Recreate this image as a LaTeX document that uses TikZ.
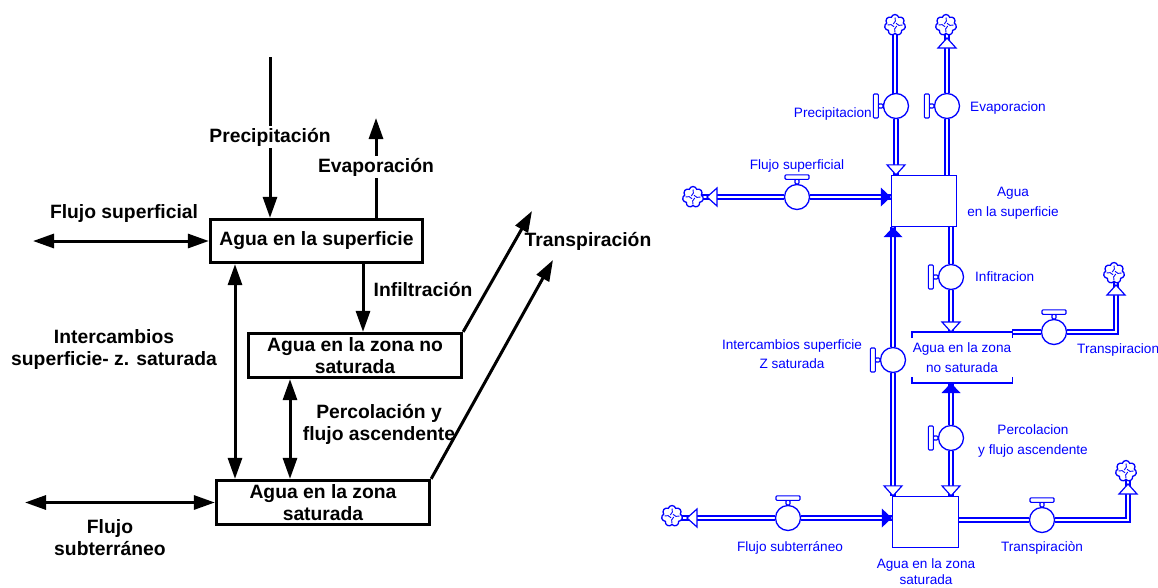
\documentclass[tikz,border=0pt]{standalone}
\usepackage{fontspec}
\setmainfont{Liberation Sans}
\usetikzlibrary{arrows.meta,shapes.symbols,calc}
\definecolor{vb}{RGB}{0,0,255}
\pgfdeclarelayer{bg}
\pgfsetlayers{bg,main}
\newcommand{\swirl}[1]{\foreach \a in {30,120,210,300}{\draw[vb,line width=0.9pt] ([shift={(\a:2)}]#1.center) to[bend right=40] ([shift={(\a+60:7.5)}]#1.center);}}
\newcommand{\lhandle}[1]{\draw[handle] ([shift={(-4.5,-2)}]#1.west) rectangle ([shift={(0,2)}]#1.west); \draw[handle] ([shift={(-9.5,-12)}]#1.west) rectangle ([shift={(-4.5,12)}]#1.west);}
\newcommand{\thandle}[1]{\draw[handle] ([shift={(-2,-4.5)}]#1.north) rectangle ([shift={(2,0)}]#1.north); \draw[handle] ([shift={(-12,-9)}]#1.north) rectangle ([shift={(12,-4.5)}]#1.north);}
\tikzset{
 bigfont/.style={font=\fontsize{19.3}{22}\selectfont\bfseries},
 box/.style={draw, line width=3.3pt, inner sep=0, align=center, bigfont, minimum width=212pt, minimum height=43pt},
 blab/.style={bigfont, align=center, inner sep=1.5pt},
 arr/.style={line width=3pt, -{Triangle[length=21pt,width=14pt]}},
 darr/.style={line width=3pt, {Triangle[length=21pt,width=14pt]}-{Triangle[length=21pt,width=14pt]}},
 sfont/.style={text=vb, font=\fontsize{13.6}{19.5}\selectfont, inner sep=1pt},
 stock/.style={draw=vb, line width=1.3pt, minimum width=65pt, minimum height=51pt, inner sep=0},
 pipe/.style={draw=vb, line width=1.3pt, double=white, double distance=2.5pt},
 valve/.style={circle, draw=vb, line width=1.3pt, fill=white, minimum size=25pt, inner sep=0},
 handle/.style={draw=vb, line width=1.2pt, fill=white, rounded corners=1pt},
 cloudsym/.style={cloud, cloud puffs=7, cloud puff arc=150, aspect=1, draw=vb, fill=white, line width=1.3pt, minimum width=21pt, minimum height=21pt, inner sep=0},
 pics/htip/.style={code={\draw[vb,line width=1.2pt,fill=white] (0,0)--(-10,9)--(-10,-9)--cycle;}},
 pics/ftip/.style={code={\fill[vb] (0,0)--(-10,9.5)--(-10,-9.5)--cycle;}},
}
\begin{document}
\begin{tikzpicture}[x=1pt,y=-1pt]
\useasboundingbox (0,0) rectangle (1158,587);
% ================= LEFT DIAGRAM =================
\node[box] (L1) at (316.5,241) {Agua en la superficie};
\node[box, minimum width=213pt, minimum height=44pt] (L2) at (355,355.5) {Agua en la zona no\\saturada};
\node[box, minimum width=213pt, minimum height=44pt] (L3) at (323,502.5) {Agua en la zona\\saturada};
\coordinate (pTop) at (270,57);
\coordinate (eTop) at (376,118);
\coordinate (fsL) at (33,241);
\coordinate (fbL) at (25,502.5);
\coordinate (t1) at (532,211);
\coordinate (t2) at (553,260);
\coordinate (xi) at (363,0);
\coordinate (xp) at (290,0);
\coordinate (xc) at (235,0);
\draw[arr] (pTop) -- (pTop |- L1.north);
\draw[arr] (eTop |- L1.north) -- (eTop);
\draw[darr] (fsL) -- (L1.west);
\draw[arr] (L1.south -| xi) -- (L2.north -| xi);
\draw[darr] (L1.south -| xc) -- (L3.north -| xc);
\draw[darr] (L2.south -| xp) -- (L3.north -| xp);
\draw[darr] (fbL) -- (L3.west);
\draw[arr] (L2.north east) -- (t1);
\draw[arr] (L3.north east) -- (t2);
\node[blab, fill=white] (lp) at (270,137) {Precipitación};
\node[blab, fill=white] (le) at (376,167) {Evaporación};
\node[blab] (lfs) at (124,214) {Flujo superficial};
\node[blab] (li) at (423,290) {Infiltración};
\node[blab] (ltr) at (588,241) {Transpiración};
\node[blab] (lic) at (114,350) {Intercambios\\superficie- z. saturada};
\node[blab] (lpc) at (379,424) {Percolación y\\flujo ascendente};
\node[blab] (lfb) at (110,538) {Flujo\\subterráneo};
% ================= RIGHT DIAGRAM =================
\node[stock] (R1) at (924,201) {};
\node[sfont, draw=none, minimum width=68pt, minimum height=51pt, outer sep=0, align=center] (R2) at (962,357.5) {Agua en la zona\\no saturada};
\node[stock, minimum width=66pt] (R3) at (925.5,522) {};
\draw[vb, line width=1.3pt] ([shift={(0,6)}]R2.north west) -- (R2.north west) -- (R2.north east) -- ++(0,6);
\draw[vb, line width=1.3pt] ([shift={(0,-6)}]R2.south west) -- (R2.south west) -- (R2.south east) -- ++(0,-6);
% valves
\node[valve] (v1) at (896,106) {};
\node[valve] (v2) at (947,106) {};
\node[valve] (v3) at (797,197) {};
\node[valve] (v4) at (893,360) {};
\node[valve] (v5) at (951,277) {};
\node[valve] (v6) at (1054,332) {};
\node[valve] (v7) at (951,438) {};
\node[valve] (v8) at (788,518) {};
\node[valve] (v9) at (1042,520) {};
\lhandle{v1}\lhandle{v2}\lhandle{v4}\lhandle{v5}\lhandle{v7}
\thandle{v3}\thandle{v6}\thandle{v8}\thandle{v9}
% clouds
\node[cloudsym] (c1) at (895,25) {};
\node[cloudsym] (c2) at (946,25) {};
\node[cloudsym] (c3) at (693,197) {};
\node[cloudsym] (c4) at (1114,273) {};
\node[cloudsym] (c5) at (672,516) {};
\node[cloudsym] (c6) at (1126,471) {};
\swirl{c1}\swirl{c2}\swirl{c3}\swirl{c4}\swirl{c5}\swirl{c6}
% pipes
\begin{pgfonlayer}{bg}
\draw[pipe] (c1.center |- v1) -- (v1) -- (R1.north -| v1);
\draw[pipe] (c1.center) -- (c1.center |- v1);
\draw[pipe] (R1.north -| v2) -- (v2) -- (v2 |- c2.center);
\draw[pipe] (c3.center |- v3) -- (v3) -- (R1.west |- v3);
\draw[pipe] (R1.south -| v4) -- (v4) -- (R3.north -| v4);
\draw[pipe] (R1.south -| v5) -- (v5) -- (R2.north -| v5);
\draw[pipe] (R2.north east) -- (v6) -- (v6 -| 1116,0) -- (1116,273);
\draw[pipe] (R2.south -| v7) -- (v7) -- (R3.north -| v7);
\draw[pipe] (c5.center |- v8) -- (v8) -- (R3.west |- v8);
\draw[pipe] (R3.east |- v9) -- (v9) -- (v9 -| 1128,0) -- (1128,471);
\end{pgfonlayer}
% tips
\pic[rotate=-90] at (R1.north -| v1) {htip};
\pic[rotate=90] at (947,38) {htip};
\pic[rotate=180] at (707,197) {htip};
\pic at (R1.west |- v3) {ftip};
\pic[rotate=90] at (R1.south -| v4) {ftip};
\pic[rotate=-90] at (R3.north -| v4) {htip};
\pic[rotate=-90] at (R2.north -| v5) {htip};
\pic[rotate=90] at (1116,285) {htip};
\pic[rotate=90] at (R2.south -| v7) {ftip};
\pic[rotate=-90] at (R3.north -| v7) {htip};
\pic[rotate=180] at (687,518) {htip};
\pic at (R3.west |- v8) {ftip};
\pic[rotate=90] at (1128,484) {htip};
% labels
\node[sfont, anchor=east] (lb1) at (873,114) {Precipitacion};
\node[sfont, anchor=west] (lb2) at (969,108) {Evaporacion};
\node[sfont] (lb3) at (797,166) {Flujo superficial};
\node[sfont, align=center] (lb4) at (1013,203) {Agua\\en la superficie};
\node[sfont, anchor=west] (lb5) at (974,277) {Infitracion};
\node[sfont, align=center] (lb6) at (792,354) {Intercambios superficie\\Z saturada};
\node[sfont, anchor=west] (lb7) at (1076,350) {Transpiracion};
\node[sfont, align=center] (lb8) at (1033,441) {Percolacion\\y flujo ascendente};
\node[sfont] (lb9) at (790,548) {Flujo subterráneo};
\node[sfont] (lb10) at (1042,548) {Transpiraciòn};
\node[sfont, align=center, font=\fontsize{13.6}{16}\selectfont, inner sep=0pt] (lb11) at (926,572) {Agua en la zona\\saturada};
\end{tikzpicture}
\end{document}
